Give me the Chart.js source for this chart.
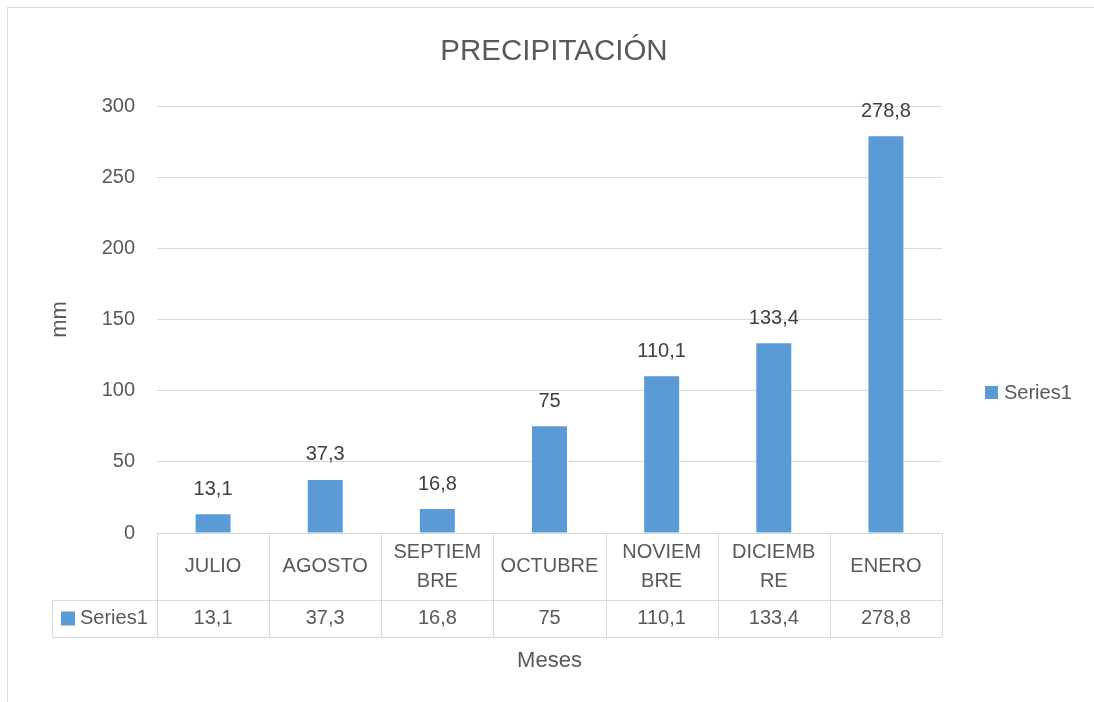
<!DOCTYPE html>
<html lang="es">
<head>
    <meta charset="utf-8">
    <title>Precipitación</title>
    <script src="https://cdn.jsdelivr.net/npm/chart.js@4.4.0/dist/chart.umd.js"></script>
    <style>
        html, body { margin: 0; padding: 0; background: #fff; }
        #wrap { position: relative; width: 1094px; height: 702px; overflow: hidden; }
        #frame { position: absolute; left: 7px; top: 7px; width: 1200px; height: 800px; border: 1px solid #d9d9d9; }
        #chart { position: absolute; left: 0; top: 0; }
    </style>
</head>
<body>
    <div id="wrap">
        <div id="frame"></div>
        <canvas id="chart" width="1094" height="702"></canvas>
    </div>

    <script>
        // Data
        const meses = [['JULIO'], ['AGOSTO'], ['SEPTIEM', 'BRE'], ['OCTUBRE'], ['NOVIEM', 'BRE'], ['DICIEMB', 'RE'], ['ENERO']];
        const precipitacion = [13.1, 37.3, 16.8, 75, 110.1, 133.4, 278.8];
        const serieNombre = 'Series1';
        const titulo = 'PRECIPITACIÓN';
        const yMin = 0;
        const yMax = 300;
        const yStep = 50;

        const FONT = "'Liberation Sans', Arial, sans-serif";
        const TEXT = '#595959';
        const GRID = '#d9d9d9';
        const BAR = '#5b9bd5';

        const fmt = v => String(v).replace('.', ',');

        // labels above bars
        const barLabels = {
            id: 'barLabels',
            afterDatasetsDraw(chart) {
                const ctx = chart.ctx;
                const meta = chart.getDatasetMeta(0);
                ctx.save();
                ctx.font = '20px ' + FONT;
                ctx.fillStyle = '#404040';
                ctx.textAlign = 'center';
                ctx.textBaseline = 'middle';
                meta.data.forEach((bar, i) => {
                    ctx.fillText(fmt(precipitacion[i]), bar.x, bar.y - 25);
                });
                ctx.restore();
            }
        };

        // title, data table under the plot, legend on the right
        const dataTable = {
            id: 'dataTable',
            afterDraw(chart) {
                const ctx = chart.ctx;
                const x = chart.scales.x;
                const n = meses.length;
                const step = (x.right - x.left) / n;
                const top = x.top;          // same as plot bottom
                const mid = top + 67;
                const bottom = top + 104;
                const keyLeft = 52.5;
                const ds = chart.data.datasets[0];

                ctx.save();
                // chart title, centred on the whole chart
                ctx.font = '29.5px ' + FONT;
                ctx.fillStyle = TEXT;
                ctx.textAlign = 'center';
                ctx.textBaseline = 'middle';
                ctx.fillText(titulo, 554, 52);

                ctx.strokeStyle = GRID;
                ctx.lineWidth = 1;
                ctx.beginPath();
                ctx.moveTo(x.left, top + 0.5); ctx.lineTo(x.right, top + 0.5);
                ctx.moveTo(keyLeft, mid + 0.5); ctx.lineTo(x.right, mid + 0.5);
                ctx.moveTo(keyLeft, bottom + 0.5); ctx.lineTo(x.right, bottom + 0.5);
                ctx.moveTo(keyLeft, mid); ctx.lineTo(keyLeft, bottom);
                for (let i = 0; i <= n; i++) {
                    const px = Math.round(x.left + i * step) + 0.5;
                    ctx.moveTo(px, top); ctx.lineTo(px, bottom);
                }
                ctx.stroke();

                ctx.font = '20px ' + FONT;
                meses.forEach((lines, i) => {
                    const cx = x.getPixelForValue(i);
                    const lh = 29;
                    const y0 = (top + mid) / 2 - (lines.length - 1) * lh / 2;
                    lines.forEach((t, j) => ctx.fillText(t, cx, y0 + j * lh));
                    ctx.fillText(fmt(precipitacion[i]), cx, (mid + bottom) / 2);
                });

                // legend key in table
                const ry = (mid + bottom) / 2;
                ctx.fillStyle = BAR;
                ctx.fillRect(61, ry - 7, 14, 14);
                ctx.fillStyle = TEXT;
                ctx.textAlign = 'left';
                ctx.fillText(ds.label, 80, ry);

                // x axis title
                ctx.textAlign = 'center';
                ctx.font = '22px ' + FONT;
                ctx.fillText('Meses', (x.left + x.right) / 2, bottom + 24);

                // legend on the right
                const ly = 392;
                ctx.fillStyle = BAR;
                ctx.fillRect(985, ly - 6, 13, 13);
                ctx.fillStyle = TEXT;
                ctx.font = '20px ' + FONT;
                ctx.textAlign = 'left';
                ctx.fillText(ds.label, 1004, ly + 1);
                ctx.restore();
            }
        };

        const ctx = document.getElementById('chart').getContext('2d');
        const chart = new Chart(ctx, {
            type: 'bar',
            data: {
                labels: meses,
                datasets: [{
                    label: serieNombre,
                    data: precipitacion,
                    backgroundColor: BAR,
                    categoryPercentage: 1,
                    barPercentage: 0.312
                }]
            },
            options: {
                responsive: false,
                animation: false,
                layout: { padding: { left: 43, right: 152, top: 106, bottom: 169 } },
                plugins: {
                    legend: { display: false },
                    tooltip: { enabled: false },
                    title: { display: false }
                },
                scales: {
                    x: { display: false },
                    y: {
                        min: yMin,
                        max: yMax,
                        afterFit(scale) { scale.width = 114; },
                        border: { display: false },
                        grid: { color: GRID, drawTicks: false },
                        ticks: {
                            stepSize: yStep,
                            padding: 22,
                            color: TEXT,
                            font: { family: FONT, size: 20 }
                        },
                        title: {
                            display: true,
                            text: 'mm',
                            color: TEXT,
                            font: { family: FONT, size: 22 }
                        }
                    }
                }
            },
            plugins: [barLabels, dataTable]
        });
    </script>
</body>
</html>
